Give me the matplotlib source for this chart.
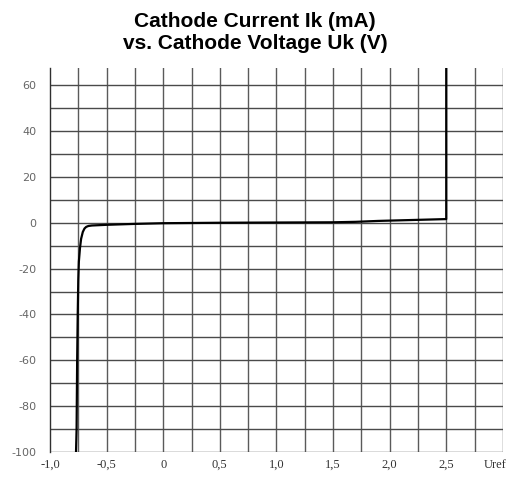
import matplotlib.pyplot as plt
import numpy as np

# cathode voltage Uk (V) and cathode current Ik (mA)
uk = [-0.77, -0.765, -0.76, -0.755, -0.75, -0.745, -0.735, -0.725, -0.71, -0.695,
      -0.68, -0.66, -0.63, -0.5, -0.25, 0.0, 0.5, 1.0, 1.5, 1.7, 1.9, 2.2, 2.5, 2.5]
ik = [-100, -90, -60, -40, -25, -17, -11, -7, -4, -2.5,
      -1.8, -1.4, -1.2, -0.9, -0.5, -0.2, 0.0, 0.1, 0.2, 0.4, 0.8, 1.2, 1.6, 80]

x_ticks = [-1.0, -0.5, 0.0, 0.5, 1.0, 1.5, 2.0, 2.5]
x_labels = ['-1,0', '-0,5', '0', '0,5', '1,0', '1,5', '2,0', '2,5']
y_ticks = [-100, -80, -60, -40, -20, 0, 20, 40, 60]

fig = plt.figure(figsize=(5.1, 4.79), dpi=100)
ax = fig.add_axes([0.098, 0.0564, 0.888, 0.8016])

ax.set_xlim(-1.0, 3.0)
ax.set_ylim(-100, 67.5)

# grid: every 0.25 V and every 10 mA
for gx in np.arange(-0.75, 3.01, 0.25):
    ax.axvline(gx, color='#5a5a5a', lw=1.0, zorder=1)
for gy in np.arange(-100, 61, 10):
    ax.axhline(gy, color='#4a4a4a', lw=1.0, zorder=1)

ax.plot(uk, ik, color='black', lw=1.6, zorder=3)

for s in ['top', 'right', 'bottom']:
    ax.spines[s].set_visible(False)
ax.spines['left'].set_color('#303030')
ax.spines['left'].set_linewidth(1.0)

ax.set_xticks(x_ticks)
ax.set_xticklabels(x_labels, family='Liberation Serif', fontsize=9, color='#333333')
ax.set_yticks(y_ticks)
ax.set_yticklabels([str(v) for v in y_ticks], family='DejaVu Sans', fontsize=8, color='#666666')
ax.tick_params(axis='x', length=0, pad=5)
ax.tick_params(axis='y', length=0, pad=10)
ax.text(2.93, -103, 'Uref', family='Liberation Serif', fontsize=9, color='#333333',
        ha='center', va='top')

fig.suptitle('Cathode Current Ik (mA)\nvs. Cathode Voltage Uk (V)', x=0.5, y=0.975,
             family='Liberation Sans', fontweight='bold', fontsize=15, linespacing=1.2)

fig.savefig('out.png', dpi=100)
